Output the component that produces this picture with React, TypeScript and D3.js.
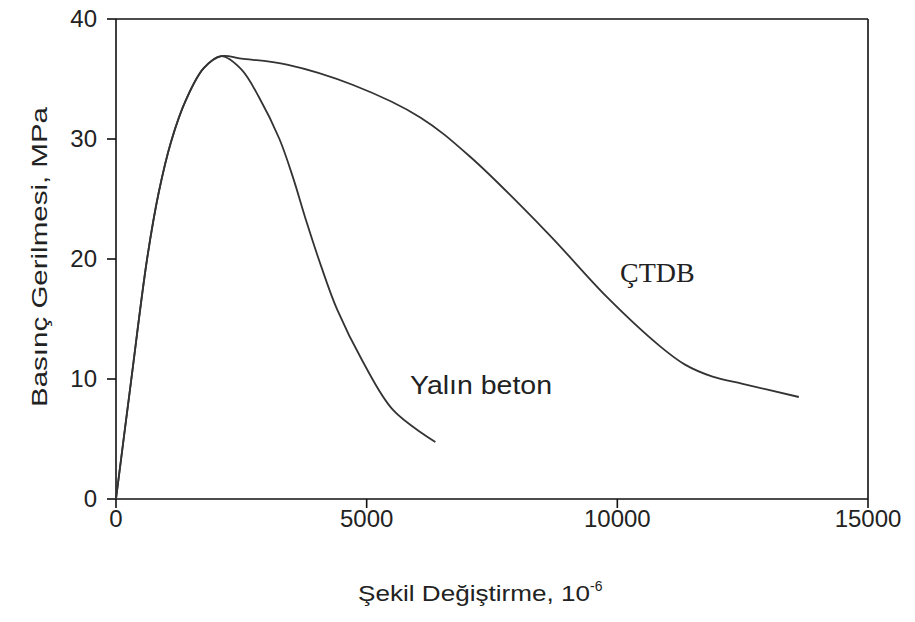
import React from "react";
import * as d3 from "d3";

const xTicks = [0, 5000, 10000, 15000];
const yTicks = [0, 10, 20, 30, 40];

// Yalın beton: strain (10^-6), stress (MPa)
const plainStrain = [0, 300, 620, 850, 1100, 1400, 1750, 2100, 2500, 2850, 3260, 3530, 3800, 4100, 4410, 4930, 5530, 6370];
const plainStress = [0, 9.8, 20, 25.5, 29.8, 33.3, 35.9, 36.9, 35.8, 33.5, 30, 26.8, 23.1, 19.3, 15.8, 11.4, 7.4, 4.75];

// ÇTDB
const fiberStrain = [0, 300, 620, 850, 1100, 1400, 1750, 2100, 2500, 3410, 4730, 6070, 7070, 8600, 9800, 10860, 11350, 11900, 12500, 13620];
const fiberStress = [0, 9.8, 20, 25.5, 29.8, 33.3, 35.9, 36.9, 36.7, 36.2, 34.5, 31.8, 28.5, 22.2, 16.8, 12.7, 11.2, 10.2, 9.6, 8.5];

const W = 915, H = 622;
const x = d3.scaleLinear().domain([0, 15000]).range([116, 868]);
const y = d3.scaleLinear().domain([0, 40]).range([499, 19]);

const line = d3.line<[number, number]>()
  .x(d => x(d[0]))
  .y(d => y(d[1]))
  .curve(d3.curveCatmullRom.alpha(0.5));

export default function App() {
  const plain = plainStrain.map((s, i) => [s, plainStress[i]] as [number, number]);
  const fiber = fiberStrain.map((s, i) => [s, fiberStress[i]] as [number, number]);
  const sans = "'Liberation Sans', Arial, sans-serif";
  const x0 = x(0), x1 = x(15000), y0 = y(0), y1 = y(40);
  return (
    <svg width={W} height={H} style={{ position: "absolute", left: 0, top: 0, background: "#fff" }}>
      <rect x={0} y={0} width={W} height={H} fill="#fff" />
      {/* frame */}
      <g stroke="#111" strokeWidth={1.6} fill="none">
        <line x1={x0} y1={y0} x2={x1} y2={y0} />
        <line x1={x0} y1={y0} x2={x0} y2={y1} />
        <line x1={x0} y1={y1} x2={x1} y2={y1} />
        <line x1={x1} y1={y1} x2={x1} y2={y0} />
        {xTicks.map(t => <line key={"xt" + t} x1={x(t)} x2={x(t)} y1={y0} y2={y0 + 9} />)}
        {yTicks.map(t => <line key={"yt" + t} x1={x0 - 9} x2={x0} y1={y(t)} y2={y(t)} />)}
      </g>
      <g fontFamily={sans} fontSize={24} fill="#222">
        {xTicks.map(t => (
          <text key={"xl" + t} x={x(t)} y={527} textAnchor="middle">{t}</text>
        ))}
        {yTicks.map(t => (
          <text key={"yl" + t} x={97} y={y(t) + 8} textAnchor="end">{t}</text>
        ))}
      </g>
      {/* curves */}
      <path d={line(fiber) || ""} fill="none" stroke="#333" strokeWidth={1.8} />
      <path d={line(plain) || ""} fill="none" stroke="#333" strokeWidth={1.8} />
      {/* labels */}
      <text x={410} y={394} fontFamily={sans} fontSize={26} fill="#222" textLength={142} lengthAdjust="spacingAndGlyphs">Yalın beton</text>
      <text x={620} y={282} fontFamily="'Liberation Serif', 'Times New Roman', serif" fontSize={28} fill="#222">ÇTDB</text>
      {/* axis titles */}
      <text x={358} y={601} fontFamily={sans} fontSize={22} fill="#222">
        <tspan textLength={232} lengthAdjust="spacingAndGlyphs">Şekil Değiştirme, 10</tspan>
        <tspan fontSize={14} dy={-10}>-6</tspan>
      </text>
      <text transform="translate(47,257) rotate(-90)" textAnchor="middle" fontFamily={sans} fontSize={22} fill="#222" textLength={300} lengthAdjust="spacingAndGlyphs">Basınç Gerilmesi, MPa</text>
    </svg>
  );
}
